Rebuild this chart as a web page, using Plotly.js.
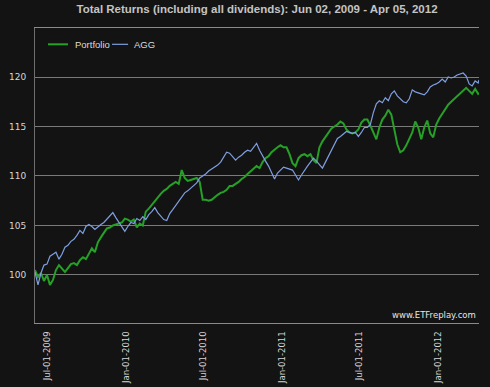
<!DOCTYPE html>
<html>
<head>
<meta charset="utf-8">
<script src="https://cdn.plot.ly/plotly-3.0.1.min.js"></script>
<style>
  html, body { margin: 0; padding: 0; background: #131313; }
  #chart { width: 490px; height: 387px; }
</style>
</head>
<body>
<div id="chart"></div>
<script>
// Weekly sampled dates (Tuesdays) from Jun 02, 2009 plus final date Apr 05, 2012
const dates = [
  "2009-06-02","2009-06-09","2009-06-16","2009-06-23","2009-06-30","2009-07-07","2009-07-14","2009-07-21","2009-07-28","2009-08-04",
  "2009-08-11","2009-08-18","2009-08-25","2009-09-01","2009-09-08","2009-09-15","2009-09-22","2009-09-29","2009-10-06","2009-10-13",
  "2009-10-20","2009-10-27","2009-11-03","2009-11-10","2009-11-17","2009-11-24","2009-12-01","2009-12-08","2009-12-15","2009-12-22",
  "2009-12-29","2010-01-05","2010-01-12","2010-01-19","2010-01-26","2010-02-02","2010-02-09","2010-02-16","2010-02-23","2010-03-02",
  "2010-03-09","2010-03-16","2010-03-23","2010-03-30","2010-04-06","2010-04-13","2010-04-20","2010-04-27","2010-05-04","2010-05-11",
  "2010-05-18","2010-05-25","2010-06-01","2010-06-08","2010-06-15","2010-06-22","2010-06-29","2010-07-06","2010-07-13","2010-07-20",
  "2010-07-27","2010-08-03","2010-08-10","2010-08-17","2010-08-24","2010-08-31","2010-09-07","2010-09-14","2010-09-21","2010-09-28",
  "2010-10-05","2010-10-12","2010-10-19","2010-10-26","2010-11-02","2010-11-09","2010-11-16","2010-11-23","2010-11-30","2010-12-07",
  "2010-12-14","2010-12-21","2010-12-28","2011-01-04","2011-01-11","2011-01-18","2011-01-25","2011-02-01","2011-02-08","2011-02-15",
  "2011-02-22","2011-03-01","2011-03-08","2011-03-15","2011-03-22","2011-03-29","2011-04-05","2011-04-12","2011-04-19","2011-04-26",
  "2011-05-03","2011-05-10","2011-05-17","2011-05-24","2011-05-31","2011-06-07","2011-06-14","2011-06-21","2011-06-28","2011-07-05",
  "2011-07-12","2011-07-19","2011-07-26","2011-08-02","2011-08-09","2011-08-16","2011-08-23","2011-08-30","2011-09-06","2011-09-13",
  "2011-09-20","2011-09-27","2011-10-04","2011-10-11","2011-10-18","2011-10-25","2011-11-01","2011-11-08","2011-11-15","2011-11-22",
  "2011-11-29","2011-12-06","2011-12-13","2011-12-20","2011-12-27","2012-01-03","2012-01-10","2012-01-17","2012-01-24","2012-01-31",
  "2012-02-07","2012-02-14","2012-02-21","2012-02-28","2012-03-06","2012-03-13","2012-03-20","2012-03-27","2012-04-03","2012-04-05"
];

const portfolio = [
  100.5, 99.8, 100.2, 99.4, 100.0, 99.0, 99.5, 100.5, 101.0, 100.7,
  100.3, 100.7, 101.1, 101.2, 101.0, 101.5, 101.8, 101.6, 102.1, 102.7,
  102.3, 103.3, 103.8, 104.3, 104.7, 104.8, 105.0, 105.1, 105.2, 105.3,
  105.7, 105.6, 105.4, 105.6, 104.8, 105.2, 105.0, 106.4, 106.7, 107.1,
  107.5, 107.9, 108.2, 108.5, 108.7, 109.0, 109.2, 109.4, 109.2, 110.6,
  109.8, 109.5, 109.6, 109.7, 109.8, 109.4, 107.6, 107.6, 107.5, 107.6,
  107.9, 108.1, 108.3, 108.4, 108.6, 109.0, 109.0, 109.2, 109.4, 109.7,
  109.9, 110.2, 110.5, 110.8, 111.0, 110.8, 111.4, 111.8, 112.0, 112.4,
  112.7, 112.9, 113.1, 112.9, 112.9, 112.2, 111.3, 111.0, 111.8, 112.1,
  112.2, 112.0, 112.2, 111.6, 111.3, 112.9, 113.5, 113.9, 114.3, 114.8,
  115.0, 115.2, 115.5, 115.3, 114.7, 114.4, 114.3, 114.4, 114.7, 115.4,
  115.7, 115.7, 115.1, 114.3, 113.7, 114.9, 115.7, 116.1, 116.7, 116.2,
  114.5, 113.2, 112.4, 112.6, 113.1, 113.7, 114.4, 115.5, 114.9, 113.7,
  114.9, 115.6, 114.3, 113.9, 115.2, 115.8, 116.3, 116.8, 117.2, 117.5,
  117.8, 118.1, 118.4, 118.7, 118.9, 118.6, 118.3, 118.8, 118.3, 118.4
];

const agg = [
  100.3, 99.0, 100.2, 101.0, 101.1, 101.9, 102.1, 102.3, 101.6, 102.1,
  102.8, 103.0, 103.4, 103.6, 104.0, 104.5, 104.2, 104.9, 105.1, 104.9,
  104.6, 104.9, 105.1, 105.3, 105.6, 106.0, 106.3, 105.8, 105.3, 104.9,
  104.4, 104.9, 105.3, 105.2, 105.7, 105.5, 105.9, 105.6, 106.1, 106.4,
  106.8, 106.3, 105.9, 105.6, 105.5, 106.2, 106.6, 107.0, 107.4, 107.9,
  108.3, 108.5, 108.8, 109.1, 109.3, 109.8, 110.0, 110.2, 110.5, 110.7,
  110.9, 111.1, 111.4, 111.9, 112.4, 112.3, 111.9, 111.6, 111.9, 112.1,
  112.4, 112.6, 112.5, 112.9, 113.3, 112.6, 112.0, 111.5, 111.0, 110.4,
  109.7, 110.3, 110.6, 110.9, 110.8, 110.7, 110.6, 110.1, 109.6, 110.1,
  110.6, 111.0, 111.4, 111.8, 111.5, 111.1, 110.8, 111.4, 112.0, 112.6,
  113.3, 113.8, 114.0, 114.3, 114.5, 114.4, 114.3, 114.4, 114.0, 114.4,
  114.9, 114.9, 115.2, 116.4, 117.3, 117.6, 117.4, 117.9, 117.6, 118.3,
  118.6, 118.1, 117.8, 117.5, 117.4, 117.8, 118.7, 118.5, 118.4, 118.3,
  118.2, 118.5, 119.0, 119.2, 119.3, 119.5, 119.8, 119.5, 120.0, 119.9,
  120.0, 120.2, 120.3, 120.4, 120.1, 119.3, 119.1, 119.6, 119.4, 119.7
];

const seriesNames = ["Portfolio", "AGG"];
const seriesColors = ["#26a026", "#7f9fe0"];
const xTickVals = ["2009-07-01","2010-01-01","2010-07-01","2011-01-01","2011-07-01","2012-01-01"];
const xTickText = ["Jul-01-2009","Jan-01-2010","Jul-01-2010","Jan-01-2011","Jul-01-2011","Jan-01-2012"];
const yTickVals = [100, 105, 110, 115, 120];

const traces = [
  { x: dates, y: portfolio, name: seriesNames[0], type: "scatter", mode: "lines",
    line: { color: seriesColors[0], width: 2 }, hoverinfo: "x+y" },
  { x: dates, y: agg, name: seriesNames[1], type: "scatter", mode: "lines",
    line: { color: seriesColors[1], width: 1.2 }, hoverinfo: "x+y" }
];

const txt = "#d6d6d6";
const layout = {
  width: 490, height: 387,
  paper_bgcolor: "#131313", plot_bgcolor: "#131313",
  margin: { l: 35, r: 11, t: 28, b: 64, pad: 0 },
  showlegend: false,
  title: {
    text: "Total Returns (including all dividends): Jun 02, 2009 - Apr 05, 2012",
    font: { family: "Liberation Sans, Arial, sans-serif", size: 11.5, color: "#c4c4c4", weight: "bold" },
    x: 0.5, xref: "paper", xanchor: "center", y: 0.978, yanchor: "middle"
  },
  xaxis: {
    type: "date", range: ["2009-06-02", "2012-04-05"],
    tickmode: "array", tickvals: xTickVals, ticktext: xTickText, tickangle: -90,
    tickfont: { family: "DejaVu Sans, sans-serif", size: 8.5, color: txt },
    showgrid: false, zeroline: false,
    showline: true, linecolor: "#8a8a8a", linewidth: 1, mirror: true,
    ticks: "outside", ticklen: 4, tickcolor: "#131313"
  },
  yaxis: {
    range: [95.15, 124.95],
    tickmode: "array", tickvals: yTickVals,
    tickfont: { family: "DejaVu Sans, sans-serif", size: 9, color: txt },
    showgrid: true, gridcolor: "#7a7a7a", gridwidth: 1, zeroline: false,
    showline: true, linecolor: "#6e6e6e", linewidth: 1,
    ticks: "outside", ticklen: 6, tickcolor: "#131313"
  },
  shapes: [
    { type: "line", xref: "paper", yref: "paper", x0: 0.0293, x1: 0.0744, y0: 0.9447, y1: 0.9447,
      line: { color: seriesColors[0], width: 2 } },
    { type: "line", xref: "paper", yref: "paper", x0: 0.1736, x1: 0.2097, y0: 0.9447, y1: 0.9447,
      line: { color: seriesColors[1], width: 1.2 } }
  ],
  annotations: [
    { text: seriesNames[0], xref: "paper", yref: "paper", x: 0.0857, y: 0.9447, xanchor: "left", yanchor: "middle",
      showarrow: false, font: { family: "Liberation Sans, Arial, sans-serif", size: 9.5, color: "#dcdcdc" } },
    { text: seriesNames[1], xref: "paper", yref: "paper", x: 0.2187, y: 0.9447, xanchor: "left", yanchor: "middle",
      showarrow: false, font: { family: "Liberation Sans, Arial, sans-serif", size: 9.5, color: "#dcdcdc" } },
    { text: "www.ETFreplay.com", xref: "paper", yref: "paper", x: 1, y: 0, xanchor: "right", yanchor: "bottom",
      xshift: -1, yshift: 1, showarrow: false,
      font: { family: "DejaVu Sans, sans-serif", size: 8.5, color: "#e6e6e6" } }
  ]
};

Plotly.newPlot("chart", traces, layout, { displayModeBar: false, staticPlot: true });
</script>
</body>
</html>
